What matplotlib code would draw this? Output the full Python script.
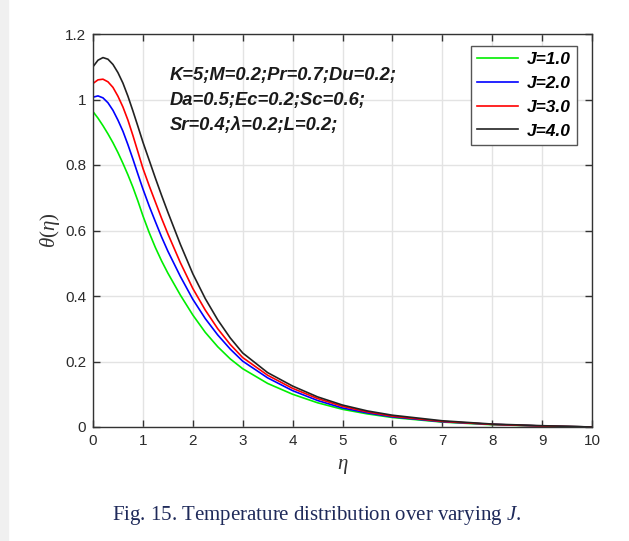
import matplotlib
matplotlib.use('Agg')
import matplotlib.pyplot as plt
from matplotlib.patches import Rectangle
from matplotlib.ticker import FormatStrFormatter

plt.rcParams['font.family'] = ['Liberation Sans', 'DejaVu Sans']
plt.rcParams['mathtext.fontset'] = 'custom'
plt.rcParams['mathtext.it'] = 'Liberation Serif:italic'
plt.rcParams['mathtext.rm'] = 'Liberation Serif'

# eta values
eta = [0, 0.1, 0.2, 0.3, 0.4, 0.5, 0.6, 0.7, 0.8, 0.9, 1.0, 1.125, 1.25, 1.375, 1.5,
       1.75, 2.0, 2.25, 2.5, 2.75, 3.0, 3.5, 4.0, 4.5, 5.0, 5.5, 6.0, 7.0, 8.0, 9.0, 10.0]

theta_j1 = [0.963, 0.943, 0.92, 0.895, 0.868, 0.838, 0.805, 0.77, 0.732, 0.69, 0.645,
            0.594, 0.548, 0.507, 0.47, 0.403, 0.342, 0.289, 0.245, 0.208, 0.178, 0.133,
            0.10, 0.074, 0.054, 0.04, 0.029, 0.015, 0.007, 0.003, 0.0]
theta_j2 = [1.007, 1.011, 1.005, 0.99, 0.967, 0.937, 0.903, 0.862, 0.818, 0.772, 0.727,
            0.675, 0.627, 0.58, 0.537, 0.46, 0.39, 0.331, 0.281, 0.238, 0.201, 0.15,
            0.111, 0.081, 0.058, 0.043, 0.031, 0.016, 0.008, 0.003, 0.0]
theta_j3 = [1.049, 1.06, 1.062, 1.054, 1.037, 1.01, 0.977, 0.937, 0.89, 0.84, 0.79,
            0.737, 0.687, 0.637, 0.59, 0.502, 0.423, 0.357, 0.3, 0.252, 0.212, 0.158,
            0.118, 0.087, 0.063, 0.046, 0.033, 0.017, 0.008, 0.003, 0.0]
theta_j4 = [1.10, 1.12, 1.128, 1.123, 1.107, 1.082, 1.05, 1.01, 0.965, 0.918, 0.87,
            0.815, 0.76, 0.707, 0.656, 0.558, 0.468, 0.392, 0.327, 0.272, 0.226, 0.166,
            0.125, 0.092, 0.067, 0.049, 0.036, 0.019, 0.009, 0.004, 0.0]

series = [theta_j1, theta_j2, theta_j3, theta_j4]
labels = ['J=1.0', 'J=2.0', 'J=3.0', 'J=4.0']
colors = ['#00ee00', '#0000ff', '#ff0000', '#222222']

xticks = list(range(0, 11))
yticks = [0, 0.2, 0.4, 0.6, 0.8, 1.0, 1.2]

params_text = 'K=5;M=0.2;Pr=0.7;Du=0.2;\nDa=0.5;Ec=0.2;Sc=0.6;\nSr=0.4;\u03bb=0.2;L=0.2;'
caption = 'Fig. 15. Temperature distribution over varying '

fig = plt.figure(figsize=(6.29, 5.41), dpi=100)
fig.patches.append(Rectangle((0, 0), 8 / 629, 1, transform=fig.transFigure,
                             color='#f0f0f0', zorder=0))
ax = fig.add_axes([93 / 629, 1 - 427 / 541, 499 / 629, 393 / 541])

for y, lab, c in zip(series, labels, colors):
    ax.plot(eta, y, color=c, lw=1.2, label=lab)

ax.set_xlim(0, 10)
ax.set_ylim(0, 1.2)
ax.set_xticks(xticks)
ax.set_yticks(yticks)
ax.yaxis.set_major_formatter(FormatStrFormatter('%g'))
ax.grid(True, color='#e3e3e3', lw=1)
ax.set_axisbelow(True)
ax.tick_params(direction='in', top=True, right=True, length=5, width=1,
               labelsize=11, labelcolor='#2b2b2b', color='#333333', pad=5)
for s in ax.spines.values():
    s.set_color('#333333')
    s.set_linewidth(1)

ax.set_xlabel(r'$\eta$', fontsize=15, color='#333333')
ax.set_ylabel(r'$\theta(\eta)$', fontsize=15, color='#333333')
ax.xaxis.set_label_coords(0.5, -(457 - 427) / 393)
ax.yaxis.set_label_coords(-(93 - 62) / 499, 0.5)

ax.text(0.154, 0.915, params_text, transform=ax.transAxes, ha='left', va='top',
        fontsize=13.2, fontweight='bold', fontstyle='italic',
        color='#1a1a1a', linespacing=1.6)

leg = ax.legend(loc='upper right', bbox_to_anchor=(0.97, 0.97), borderaxespad=0,
                fancybox=False, framealpha=1, edgecolor='#555555', handlelength=2.4,
                prop={'weight': 'bold', 'style': 'italic', 'size': 12.5},
                labelspacing=0.5, borderpad=0.35, handletextpad=0.5)
leg.get_frame().set_linewidth(1)

fig.text(0.503, 0.048, caption + r'$J$' + '.', ha='center', va='center',
         fontsize=15, family='Liberation Serif', color='#1f2a5a')

fig.savefig('out.png', dpi=100)
